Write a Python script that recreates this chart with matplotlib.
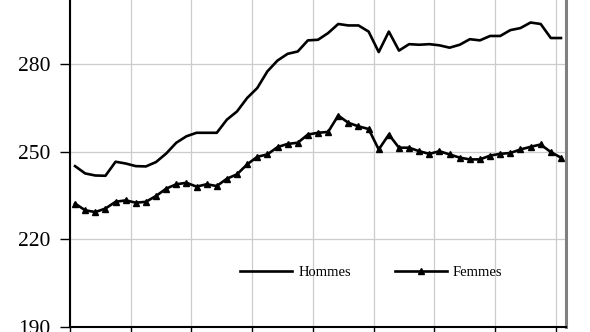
import matplotlib
matplotlib.use("Agg")
import matplotlib.pyplot as plt
import numpy as np

hommes = [245.0, 242.5, 241.8, 241.7, 246.5, 245.9, 245.0, 244.9, 246.4, 249.3,
          253.0, 255.2, 256.4, 256.4, 256.4, 260.9, 263.7, 268.3, 271.7, 277.4,
          281.1, 283.4, 284.2, 288.0, 288.2, 290.5, 293.6, 293.1, 293.1, 291.0,
          284.0, 291.0, 284.5, 286.7, 286.5, 286.7, 286.3, 285.5, 286.5, 288.4,
          288.0, 289.5, 289.5, 291.5, 292.2, 294.1, 293.6, 288.8, 288.8]
femmes = [232.2, 229.9, 229.3, 230.5, 232.8, 233.3, 232.5, 232.8, 234.8, 237.3,
          238.8, 239.3, 238.0, 238.8, 238.2, 240.7, 242.2, 245.6, 248.2, 249.0,
          251.5, 252.6, 253.0, 255.8, 256.4, 256.7, 262.3, 259.8, 258.6, 257.7,
          250.7, 255.8, 251.3, 251.3, 250.1, 249.2, 250.1, 249.0, 247.9, 247.3,
          247.3, 248.6, 249.2, 249.5, 250.7, 251.6, 252.4, 249.8, 247.9]
series_labels = ["Hommes", "Femmes"]
y_ticks = [190, 220, 250, 280, 310]

plt.rcParams['font.family'] = ['Liberation Serif', 'DejaVu Serif']

fig = plt.figure(figsize=(5.9, 3.32), dpi=100)
ax = fig.add_axes([70/590, 1 - 327/332, 496/590, 327/332])

x = np.arange(len(hommes))
ax.plot(x, hommes, color='black', lw=1.9, label=series_labels[0], zorder=3)
ax.plot(x, femmes, color='black', lw=1.9, marker='^', markersize=4.8,
        label=series_labels[1], zorder=3)

ax.set_yticks(y_ticks)
ax.set_xticks(np.arange(-0.5, len(hommes) - 0.5, 6))
ax.set_xticklabels([])
ax.set_xlim(-0.5, len(hommes) - 0.5)
ax.set_ylim(190, 301.8)
ax.grid(True, color='#cccccc', lw=0.9, zorder=0)
ax.set_axisbelow(True)

ax.tick_params(axis='y', direction='out', length=7, width=1, pad=7, labelsize=15.5)
ax.tick_params(axis='x', direction='out', length=5, width=1)

ax.spines['left'].set_linewidth(1.5)
ax.spines['bottom'].set_linewidth(1.5)
ax.spines['right'].set_color('#808080')
ax.spines['right'].set_linewidth(2.2)
ax.spines['top'].set_visible(False)

leg = ax.legend(loc='center', bbox_to_anchor=(0.607, 0.168), ncol=2, frameon=False,
                fontsize=10.5, handlelength=3.6, handletextpad=0.4, columnspacing=3.0)

fig.savefig("out.png", dpi=100)
